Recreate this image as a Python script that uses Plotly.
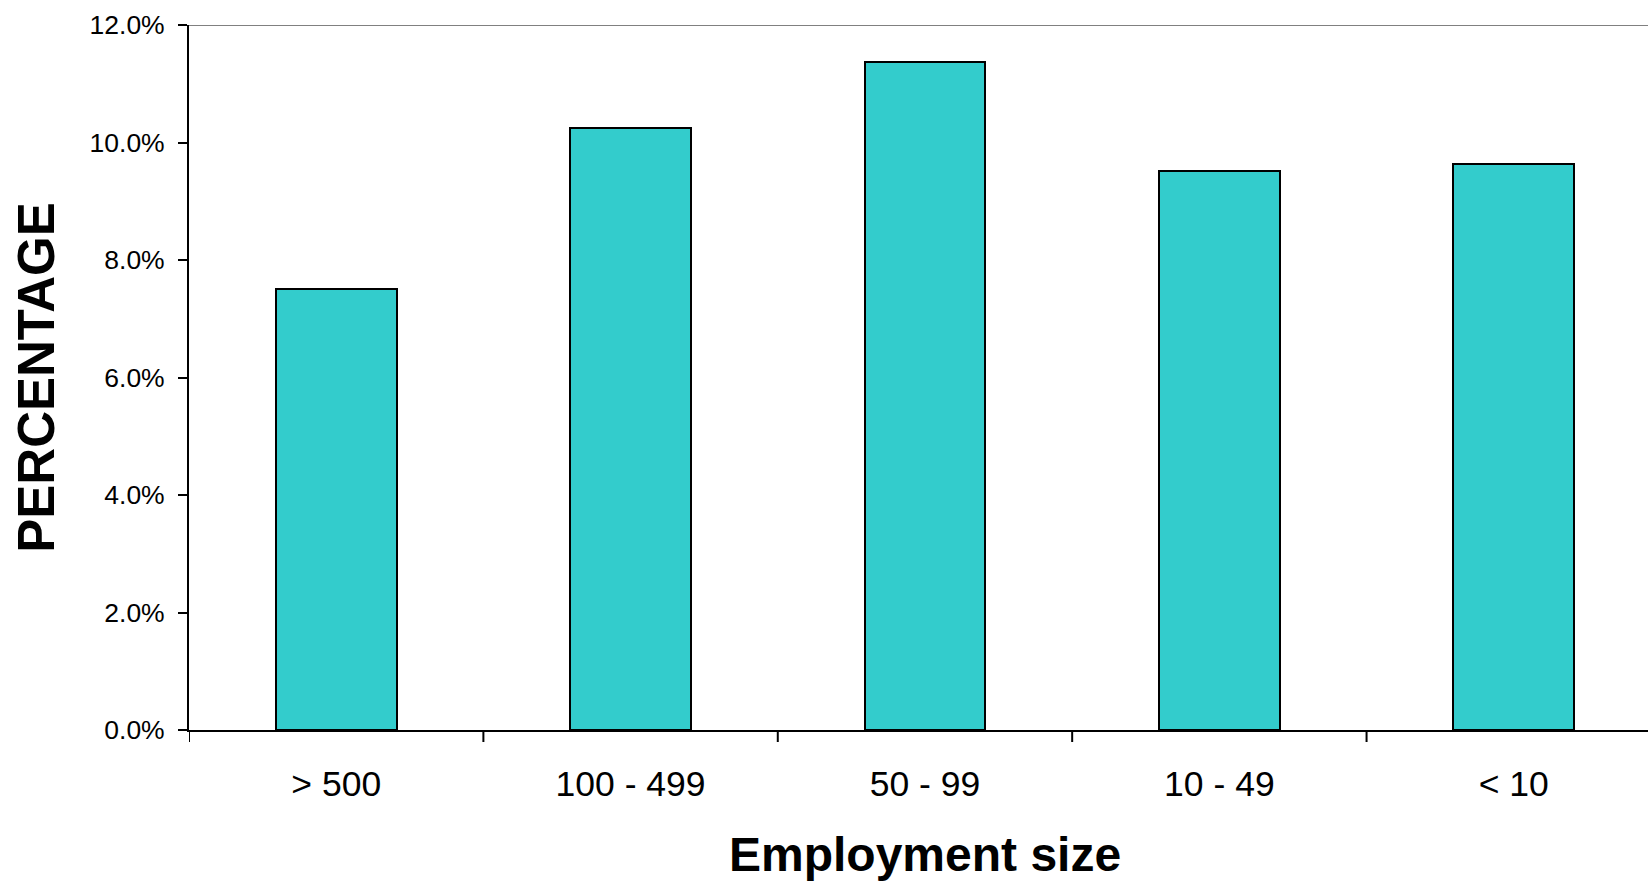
import plotly.graph_objects as go

# Share of firms by employment size (percent)
categories = ["> 500", "100 - 499", "50 - 99", "10 - 49", "< 10"]
percentages = [7.5, 10.25, 11.375, 9.52, 9.63]
y_ticks = [0, 2, 4, 6, 8, 10, 12]

FONT = "Arial, 'Liberation Sans', sans-serif"

fig = go.Figure(
    go.Bar(
        x=list(range(len(categories))),
        y=percentages,
        width=0.41,
        marker=dict(color="#33CCCC", line=dict(color="#000000", width=2)),
        hoverinfo="skip",
    )
)

fig.update_layout(
    width=1648,
    height=882,
    margin=dict(l=189, r=0, t=25, b=152, pad=0),
    paper_bgcolor="white",
    plot_bgcolor="white",
    showlegend=False,
    font=dict(family=FONT, color="#000000"),
    bargap=0,
)

fig.update_xaxes(
    type="linear",
    range=[-0.5, 4.456],
    tickmode="array",
    tickvals=list(range(len(categories))),
    ticktext=categories,
    ticks="",
    showline=True,
    linecolor="#000000",
    linewidth=2,
    showgrid=False,
    zeroline=False,
    tickfont=dict(size=35.5, family=FONT),
    ticklabelstandoff=21,
    automargin=False,
)

fig.update_yaxes(
    range=[0, 12],
    tickmode="array",
    tickvals=y_ticks,
    ticktext=[f"{v:.1f}%" for v in y_ticks],
    ticks="outside",
    ticklen=9,
    tickwidth=2,
    tickcolor="#000000",
    showline=True,
    linecolor="#000000",
    linewidth=2,
    showgrid=False,
    zeroline=False,
    tickfont=dict(size=26.5, family=FONT),
    ticklabelstandoff=8,
    title=dict(
        text="<b>PERCENTAGE</b>",
        font=dict(size=51, family=FONT),
        standoff=19,
    ),
    automargin=False,
)

# Axis title centred under the full category span
fig.add_annotation(
    text="<b>Employment size</b>",
    xref="x", yref="paper",
    x=2, y=-0.177,
    xanchor="center", yanchor="middle",
    showarrow=False,
    font=dict(size=48, family=FONT, color="#000000"),
)

# Category boundary ticks on the x axis
for b in [-0.5, 0.5, 1.5, 2.5, 3.5]:
    fig.add_shape(
        type="line",
        xref="x", yref="paper",
        x0=b, x1=b, y0=0, y1=-12 / 705,
        line=dict(color="#000000", width=2),
        layer="above",
    )

# Grey frame line along the top of the plot
fig.add_shape(
    type="line",
    xref="paper", yref="y",
    x0=0, x1=1, y0=12, y1=12,
    line=dict(color="#808080", width=2),
    layer="above",
)

fig.write_html("out.html")
